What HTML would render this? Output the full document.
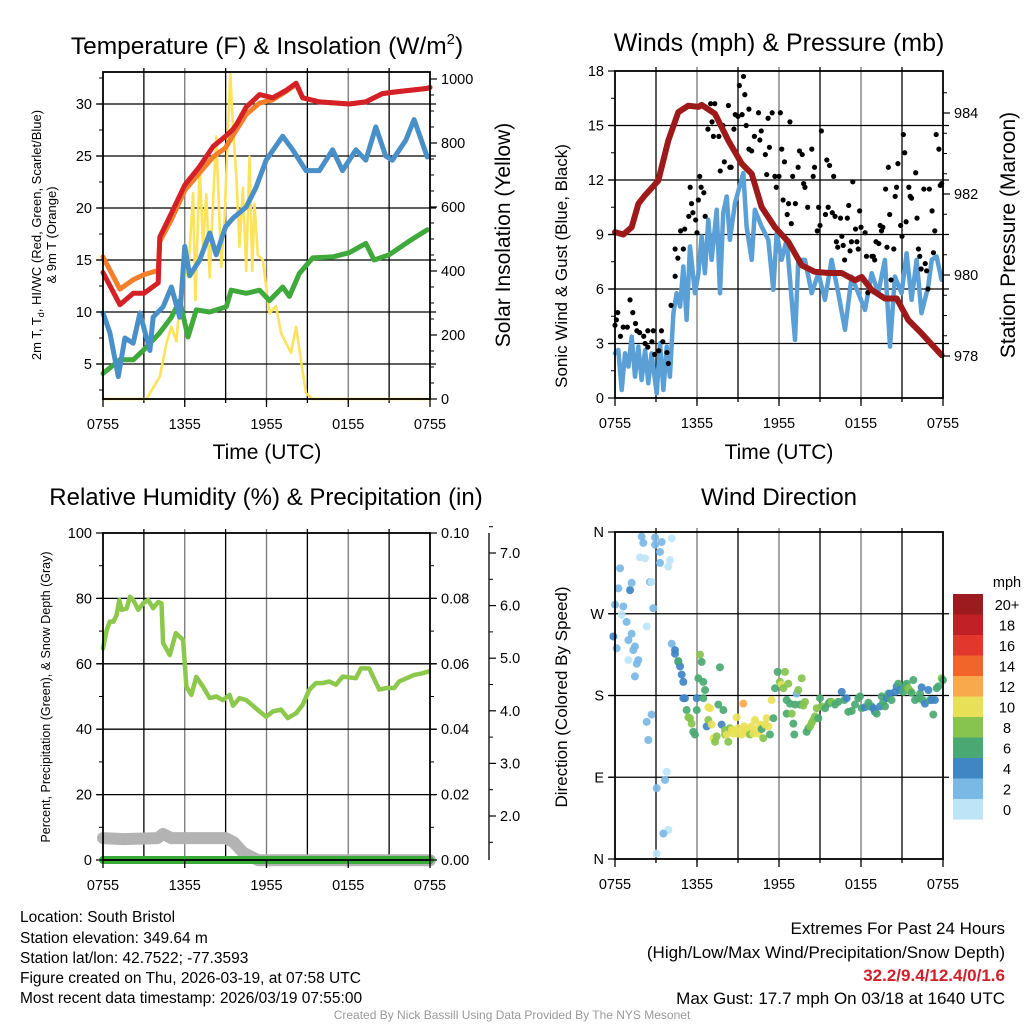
<!DOCTYPE html>
<html><head><meta charset="utf-8"><style>
html,body{margin:0;padding:0;background:#fff}
svg{display:block;font-family:"Liberation Sans",sans-serif}
</style></head><body>
<svg id="c" width="1024" height="1024" viewBox="0 0 1024 1024" xmlns="http://www.w3.org/2000/svg">
<rect width="1024" height="1024" fill="#fff"/>
<g id="g"></g>
<text x="267" y="54" font-size="24.5" text-anchor="middle">Temperature (F) &amp; Insolation (W/m<tspan font-size="15" dy="-10">2</tspan><tspan dy="10">)</tspan></text>
<text x="779" y="51" font-size="25" text-anchor="middle">Winds (mph) &amp; Pressure (mb)</text>
<text x="266" y="505" font-size="24" text-anchor="middle">Relative Humidity (%) &amp; Precipitation (in)</text>
<text x="779" y="505" font-size="24" text-anchor="middle">Wind Direction</text>
<text x="267" y="459" font-size="21" text-anchor="middle">Time (UTC)</text>
<text x="779" y="459" font-size="21" text-anchor="middle">Time (UTC)</text>
<text transform="translate(41,235) rotate(-90)" font-size="13" text-anchor="middle">2m T, T<tspan font-size="9" dy="3">d</tspan><tspan dy="-3">, HI/WC (Red, Green, Scarlet/Blue)</tspan></text>
<text transform="translate(56,235) rotate(-90)" font-size="13" text-anchor="middle">&amp; 9m T (Orange)</text>
<text transform="translate(510,235) rotate(-90)" font-size="21" text-anchor="middle">Solar Insolation (Yellow)</text>
<text transform="translate(567,266) rotate(-90)" font-size="17" text-anchor="middle">Sonic Wind &amp; Gust (Blue, Black)</text>
<text transform="translate(1015,235) rotate(-90)" font-size="21" text-anchor="middle">Station Pressure (Maroon)</text>
<text transform="translate(50,697) rotate(-90)" font-size="12.5" text-anchor="middle">Percent, Precipitation (Green), &amp; Snow Depth (Gray)</text>
<text transform="translate(567,697) rotate(-90)" font-size="17" text-anchor="middle">Direction (Colored By Speed)</text>
<g font-size="15.5">
<text x="20" y="922">Location: South Bristol</text>
<text x="20" y="943">Station elevation: 349.64 m</text>
<text x="20" y="963">Station lat/lon: 42.7522; -77.3593</text>
<text x="20" y="983">Figure created on Thu, 2026-03-19, at 07:58 UTC</text>
<text x="20" y="1003">Most recent data timestamp: 2026/03/19 07:55:00</text>
</g>
<g font-size="17" text-anchor="end">
<text x="1005" y="934">Extremes For Past 24 Hours</text>
<text x="1005" y="958">(High/Low/Max Wind/Precipitation/Snow Depth)</text>
<text x="1005" y="981" fill="#d0202a" font-weight="bold">32.2/9.4/12.4/0/1.6</text>
<text x="1005" y="1004">Max Gust: 17.7 mph On 03/18 at 1640 UTC</text>
</g>
<text x="512" y="1019" font-size="12" fill="#999" text-anchor="middle">Created By Nick Bassill Using Data Provided By The NYS Mesonet</text>
</svg>
<script>
// ---------- data ----------
const timeLabels = ["0755","1355","1955","0155","0755"];
const redH = [0,1.24,2.22,3,4.05,4.17,5.02,6,7.1,8.07,9,9.5,9.78,10.51,11.49,12.46,13.43,14.17,14.66,15.88,18.07,19.29,20.51,21.73,23.8,24];
const redT = [13.8,10.7,11.8,11.8,12.8,17.2,19.5,22.2,24.0,25.9,26.9,27.5,28.0,29.7,30.9,30.6,31.3,32.0,30.6,30.2,30.0,30.2,31.0,31.2,31.5,31.6];
const orH = [0,1.24,2.22,3,4.05,4.17,5.02,6,7.1,8.07,9,9.5,10.51,11.49,12.46,13.43,14.17,14.66,15.88,18.07,19.29,20.51,21.73,23.8,24];
const orT = [15.3,12.2,13.1,13.6,14.0,16.8,18.9,21.7,23.4,24.9,25.8,26.9,29.0,30.1,30.4,31.2,31.9,30.6,30.2,30.0,30.2,31.0,31.2,31.5,31.6];
const blH = [0,0.51,1.12,1.61,2.22,2.71,3.44,3.68,4.41,5.02,5.63,6.0,6.36,7.1,7.83,8.31,9.0,9.53,10.51,11.24,11.97,13.19,13.92,14.9,15.88,16.85,17.58,18.56,19.29,20.02,20.75,21.24,22.22,22.83,23.8];
const blT = [9.9,8.0,3.8,7.5,7.0,9.9,6.3,9.5,10.5,12.4,9.5,16.3,13.5,15.0,17.6,15.5,18.2,19.0,20.1,22.0,24.6,26.9,25.6,23.6,23.6,25.6,23.6,25.6,24.6,27.8,25.0,24.6,26.5,28.5,24.9];
const grH = [0,1.24,2.22,2.95,4.17,5.02,5.63,6.24,6.85,7.83,9.05,9.41,10.51,11.49,12.22,13.19,13.68,14.41,15.39,16.85,18.07,19.29,19.9,21.0,22.46,23.8];
const grT = [4.1,5.4,5.4,6.3,8.0,9.5,11.1,7.6,10.2,10.0,10.5,12.1,11.8,12.1,11.1,12.4,11.5,13.7,15.2,15.3,15.7,16.6,15.0,15.5,16.8,17.9];
const solH = [0,3.2,3.44,4.17,4.66,5.02,5.39,5.63,5.88,6.24,6.61,6.78,7.1,7.34,7.58,7.83,8.07,8.31,8.68,8.92,9.34,9.58,9.78,10.02,10.27,10.51,10.75,10.95,11.12,11.36,11.73,12.22,12.7,13.07,13.8,14.17,14.53,14.9,15.39,24];
const solW = [0,0,18,70,175,226,180,300,434,380,643,309,726,480,640,380,612,820,413,560,1018,820,700,476,660,400,757,400,610,450,434,268,290,206,144,226,120,18,0,0];
const wdH = [0,0.24,0.49,0.73,0.98,1.22,1.46,1.71,1.95,2.2,2.44,2.68,3.05,3.29,3.54,3.78,4.02,4.27,4.51,4.76,5.0,5.24,5.49,5.85,6.1,6.34,6.58,6.83,7.07,7.44,7.68,7.92,8.17,8.41,8.78,9.39,9.63,10.0,10.24,10.73,11.22,11.58,11.83,12.19,12.56,13.17,13.41,13.9,14.39,14.88,15.36,15.85,16.34,16.83,17.31,17.8,18.29,18.78,19.26,19.75,20.12,20.48,20.97,21.34,21.7,22.07,22.43,22.92,23.17,23.53,23.9];
const wdV = [2.46,2.64,0.44,2.46,1.73,3.38,1.17,2.83,0.99,2.64,0.81,2.46,0.26,3.01,0.44,2.83,1.17,4.67,5.77,5.03,7.24,4.3,8.34,5.77,6.87,8.89,6.87,9.81,7.6,10.36,5.77,10.18,11.09,8.71,10.73,12.38,9.44,7.6,10.36,9.44,8.71,5.95,9.07,7.6,8.71,3.2,7.6,7.6,5.77,6.87,5.4,7.6,5.77,3.75,6.68,5.77,4.85,6.87,5.77,7.6,2.83,6.68,5.77,7.97,5.4,7.6,4.67,6.13,7.6,7.79,6.5];
const gustH = [0,0.1,0.2,0.4,0.6,0.9,1.1,1.3,1.5,1.6,1.8,2.1,2.2,2.4,2.4,2.7,2.8,2.9,3.2,3.4,3.5,3.8,3.9,4.1,4.4,4.4,4.6,4.8,5.0,5.1,5.4,5.5,5.6,5.7,5.9,6.0,6.1,6.2,6.3,6.5,6.6,6.8,7.0,7.1,7.2,7.3,7.6,7.7,7.9,8.0,8.3,8.4,8.5,8.7,8.8,9.0,9.1,9.3,9.4,9.5,9.6,9.8,9.8,10.0,10.2,10.5,10.6,10.7,11.0,11.1,11.2,11.3,11.5,11.7,11.8,12.0,12.1,12.2,12.3,12.4,12.6,12.7,12.8,12.9,13.0,13.2,13.4,13.5,13.7,13.8,13.9,14.1,14.4,14.5,14.6,14.8,14.9,15.0,15.1,15.4,15.5,15.6,15.7,15.9,16.0,16.1,16.2,16.3,16.5,16.6,16.7,16.8,17.0,17.1,17.2,17.3,17.4,17.6,17.7,17.8,17.9,18.0,18.3,18.4,18.5,18.8,18.9,19.0,19.1,19.3,19.4,19.5,19.6,19.8,19.9,20.0,20.1,20.2,20.4,20.5,20.6,20.7,20.9,21.0,21.1,21.2,21.3,21.5,21.6,21.7,22.0,22.1,22.2,22.3,22.4,22.6,22.7,22.8,22.9,23.0,23.2,23.3,23.4,23.5,23.7,23.8,23.9];
const gustV = [4.0,4.3,4.7,3.4,3.9,3.9,5.4,4.7,4.1,3.7,3.6,3.4,3.0,2.8,3.7,3.1,3.7,2.4,2.6,3.7,3.1,2.5,1.9,5.1,6.7,8.2,7.7,9.2,8.2,9.3,10.0,11.6,10.7,10.2,9.8,9.1,10.9,12.2,11.6,11.3,10.0,14.8,16.2,15.2,14.4,16.2,14.4,12.5,15.0,13.0,16.1,12.7,12.7,14.8,15.6,15.5,17.2,15.6,17.7,16.7,15.0,13.7,15.9,13.6,14.4,15.7,14.2,14.7,13.4,12.3,15.4,13.8,15.7,12.2,11.6,12.2,15.7,13.7,10.9,13.0,10.1,10.7,15.2,9.6,12.2,10.7,12.7,13.6,13.4,11.8,11.6,10.5,13.7,12.2,12.7,9.2,10.5,9.5,14.7,10.1,13.1,10.5,12.8,10.2,12.2,10.0,8.6,8.3,9.9,8.9,8.4,7.6,9.9,10.6,8.1,8.6,11.9,9.3,8.6,8.2,10.3,9.4,9.1,7.8,5.8,7.8,7.8,7.6,8.6,8.5,9.5,9.2,9.4,11.5,8.3,12.7,10.1,6.5,8.2,11.1,11.6,12.9,9.5,8.9,14.5,13.5,9.7,11.6,11.1,11.0,12.4,9.9,8.2,7.8,7.1,11.5,7.4,7.0,6.0,11.5,10.3,8.0,9.2,14.5,13.7,11.7,11.8];
const presH = [0,0.61,1.22,1.71,2.2,3.17,3.9,4.63,5.36,6.1,6.34,7.32,8.29,9.27,10.0,10.73,11.7,12.68,13.66,14.63,15.61,16.58,17.56,18.05,18.78,19.75,20.61,21.46,22.43,23.9];
const presV = [981.06,981.0,981.18,981.76,981.97,982.33,983.32,984.02,984.18,984.15,984.2,983.98,983.32,982.75,982.5,981.68,981.18,980.82,980.24,980.08,980.05,980.05,979.87,979.95,979.63,979.42,979.42,978.89,978.56,978.02];
const rhH = [0,0.27,0.51,0.76,1.0,1.2,1.37,1.73,1.98,2.22,2.59,2.95,3.32,3.68,4.05,4.29,4.41,4.9,5.34,5.88,6.12,6.49,6.85,7.34,7.83,8.32,8.8,9.29,9.54,10.02,10.51,11.0,11.49,11.98,12.46,13.07,13.56,14.17,14.66,15.15,15.63,16.12,16.61,17.1,17.59,18.56,18.93,19.54,20.27,20.83,21.37,21.73,22.83,23.44,23.93];
const rhV = [64.7,70.3,72.9,72.9,74.9,79.5,76.5,76.9,80.5,79.5,76.5,78.5,79.5,77.0,78.9,78.5,66.3,62.7,69.4,67.3,53.0,50.5,56.0,53.0,49.5,50.0,48.9,50.5,47.2,49.5,48.9,47.2,45.4,43.8,45.4,46.0,43.4,44.9,47.5,52.1,54.1,54.1,54.6,53.6,56.1,55.6,58.6,58.6,52.1,52.6,52.6,54.6,56.6,57.1,57.7];
const snowH = [0,1.5,4.0,4.4,5.0,6.0,9.0,9.6,10.3,11.4,24];
const snowV = [1.58,1.56,1.58,1.66,1.58,1.58,1.58,1.5,1.3,1.16,1.16];
const precipH = [0,24];
const precipV = [0,0];
const speedLabels = ["20+","18","16","14","12","10","8","6","4","2","0"];
const speedColors = ["#9b1b1f","#c12027","#e2372c","#f1652b","#f7a94b","#e8e157","#86c44e","#4aa972","#3f86c4","#7ab8e6","#bde5f7"];
const dirH = [0,0.24,0.37,0.12,-0.12,0.49,0.61,0.85,0.98,1.1,1.22,1.22,1.34,1.46,1.71,1.59,0.98,1.46,1.83,2.2,1.95,2.07,2.56,2.68,2.8,2.93,2.93,3.41,3.29,3.29,4.15,4.02,3.9,2.32,2.68,2.32,2.44,3.78,3.66,3.05,3.9,3.54,3.05,
 4.15,4.39,4.39,4.63,4.76,4.88,5.0,5.0,5.12,4.63,5.24,5.37,5.49,5.61,5.73,5.85,5.98,5.98,6.1,6.22,6.34,6.46,6.59,6.46,6.71,6.95,6.83,7.07,7.2,7.32,7.44,6.83,7.56,7.68,7.8,7.93,8.05,8.05,8.17,8.29,8.41,8.54,8.66,8.78,8.9,9.02,9.02,9.27,9.39,9.46,9.51,9.63,9.76,9.88,10.0,10.12,10.24,10.37,10.49,10.61,10.73,10.85,10.98,11.1,11.22,11.34,11.46,11.59,11.71,11.9,12.07,12.2,12.32,12.44,12.56,12.56,12.68,12.8,12.93,13.05,13.12,13.17,13.29,13.41,13.54,13.66,13.78,13.9,14.02,14.15,14.27,14.39,14.51,14.63,14.76,14.88,15.0,15.12,15.37,15.61,15.73,15.85,16.1,16.34,16.59,16.78,16.95,17.07,17.32,17.56,17.8,17.93,18.05,18.29,18.54,18.66,18.78,18.9,19.02,19.15,19.39,19.51,19.63,19.76,19.88,20.0,20.12,20.24,20.49,20.61,20.73,20.85,21.1,21.22,21.34,21.46,21.59,21.71,21.83,21.95,22.2,22.32,22.44,22.51,22.68,22.93,23.05,23.17,23.29,23.41,23.54,23.66,23.9,24.0];
const dirDeg = [280,298,320,232,245,269,278,261,241,296,304,248,230,234,219,215,219,201,332,331,355,348,305,305,276,346,354,349,338,326,353,329,322,256,159,151,131,96,87,78,32,28,6,
 237,230,226,217,212,203,195,177,177,218,164,156,155,149,140,137,177,164,199,225,217,195,186,177,146,166,153,148,133,129,135,167,170,211,148,164,142,137,137,129,144,142,138,142,156,138,144,137,171,146,140,142,138,137,146,138,153,142,138,148,143,133,148,155,146,137,175,155,188,206,195,192,188,206,175,160,193,171,160,149,137,170,182,186,170,199,169,173,140,144,146,150,153,157,166,155,177,168,166,171,173,173,170,173,184,175,177,162,163,170,177,179,166,167,172,168,168,166,162,160,168,179,173,168,177,182,182,175,184,190,193,186,184,190,193,188,185,183,197,175,177,182,189,175,171,186,175,175,159,175,188,190,199,197,192,195,206,201];
const dirSpd = [2,2,2,2,4,0,2,2,2,4,2,2,2,2,2,2,0,2,0,0,2,2,2,0,2,2,2,2,2,2,0,0,0,0,2,2,2,0,2,2,0,2,0,
 2,4,4,4,4,4,4,4,4,6,6,8,8,8,6,6,4,6,6,8,6,6,6,6,4,10,8,10,10,8,8,10,6,6,4,6,8,8,10,8,8,10,10,10,10,10,10,10,12,10,10,10,10,8,10,10,10,10,10,10,6,8,10,10,10,6,10,6,6,6,8,10,8,8,6,6,8,6,8,6,6,6,2,8,6,8,8,8,6,6,8,8,8,8,8,6,6,8,6,6,6,8,6,6,4,6,4,6,6,6,6,6,6,4,6,6,6,4,4,6,4,6,6,6,4,6,4,6,4,4,6,4,6,6,6,8,8,6,6,6,6,6,4,6,4,4,6,4,6,4,6,6,8,6,6,6];

// ---------- helpers ----------
const NS="http://www.w3.org/2000/svg";
const G=document.getElementById('g');
function mk(tag,attrs,parent){const e=document.createElementNS(NS,tag);for(const k in attrs)e.setAttribute(k,attrs[k]);(parent||G).appendChild(e);return e;}
function lin(d0,d1,r0,r1){return v=>r0+(v-d0)*(r1-r0)/(d1-d0);}
function path(xs,ys,sx,sy){return xs.map((h,i)=>(i?'L':'M')+sx(h).toFixed(1)+','+sy(ys[i]).toFixed(1)).join('');}

function panelGrid(L,R,T,B,sx,hLines){
  for(let h=3;h<24;h+=3){
    const l=mk('line',{x1:sx(h),x2:sx(h),y1:T-4,y2:B+4,stroke:(h%6===0)?'#777':'#000','stroke-width':1.3});
    
    
  }
  hLines.forEach(y=>{
    const l=mk('line',{x1:L-6,x2:R+6,y1:y,y2:y,stroke:'#000','stroke-width':1.3});
    
    
  });
}
function xTicks(sx,B){
  timeLabels.forEach((t,i)=>{
    const x=sx(i*6);
    const tx=mk('text',{x:x,y:B+30,'font-size':14.5,'text-anchor':'middle'});
    tx.textContent=t;
    
    
    mk('line',{x1:x,x2:x,y1:B,y2:B+8,stroke:'#000','stroke-width':1.3});
  });
}
function frame(L,R,T,B,name){
  const r=mk('rect',{x:L,y:T,width:R-L,height:B-T,fill:'none',stroke:'#000','stroke-width':1.8});
  
  
}
function yTicks(vals,sy,x,side,labels,minor){
  vals.forEach((v,i)=>{
    const y=sy(v);
    mk('line',{x1:x,x2:x+(side<0?-7:7),y1:y,y2:y,stroke:'#000','stroke-width':1.2});
    const t=mk('text',{x:x+(side<0?-11:11),y:y+5,'font-size':14.5,'text-anchor':side<0?'end':'start'});
    t.textContent=labels?labels[i]:v;
    
    
  });
  (minor||[]).forEach(v=>{const y=sy(v);mk('line',{x1:x,x2:x+(side<0?-4:4),y1:y,y2:y,stroke:'#000','stroke-width':1});});
}
function line(xs,ys,sx,sy,color,w,name,extra){
  const p=mk('path',Object.assign({d:path(xs,ys,sx,sy),fill:'none',stroke:color,'stroke-width':w,'stroke-linejoin':'round','stroke-linecap':'round'},extra||{}));
  
  
}

// ---------- Panel 1 ----------
{
  const L=103,R=430,T=72,B=399;
  const sx=lin(0,24,L,R), sy=lin(5,30,364,104), sw=lin(0,1000,399,79);
  panelGrid(L,R,T,B,sx,[5,10,15,20,25,30].map(sy));
  line(solH,solW,sx,sw,'#fde35b',2.6,'insolation-line');
  line(grH,grT,sx,sy,'#3fa93b',5,'dewpoint-line');
  line(blH,blT,sx,sy,'#4a90c8',5,'windchill-line');
  line(orH,orT,sx,sy,'#f47f2b',5,'temp-9m-line');
  line(redH,redT,sx,sy,'#d42027',5,'temp-2m-line');
  frame(L,R,T,B,'temp-plot-frame');
  yTicks([5,10,15,20,25,30],sy,L,-1,null,[2.5,7.5,12.5,17.5,22.5,27.5,32.5]);
  yTicks([0,200,400,600,800,1000],sw,R,1,null,[50,100,150,250,300,350,450,500,550,650,700,750,850,900,950]);
  xTicks(sx,B);
}
// ---------- Panel 2 ----------
{
  const L=615,R=943,T=71,B=398;
  const sx=lin(0,24,L,R), sy=lin(0,18,398,71), sp=lin(978,984,356,113);
  panelGrid(L,R,T,B,sx,[3,6,9,12,15].map(sy));
  line(wdH,wdV,sx,sy,'#5a9fd6',4.5,'sonic-wind-line');
  gustH.forEach((h,i)=>{
    const c=mk('circle',{cx:sx(h),cy:sy(gustV[i]),r:2.6,fill:'#000'});
    
    
  });
  line(presH,presV,sx,sp,'#9e1a1a',6,'pressure-line');
  frame(L,R,T,B,'wind-plot-frame');
  yTicks([0,3,6,9,12,15,18],sy,L,-1,null,[1.5,4.5,7.5,10.5,13.5,16.5]);
  yTicks([978,980,982,984],sp,R,1,null,[978.5,979,979.5,980.5,981,981.5,982.5,983,983.5,984.5]);
  xTicks(sx,B);
}
// ---------- Panel 3 ----------
{
  const L=103,R=430,T=533,B=860;
  const sx=lin(0,24,L,R), sy=lin(0,100,860,533), sr=lin(0,0.1,860,533), ss=lin(2,7,816,553);
  panelGrid(L,R,T,B,sx,[20,40,60,80].map(sy));
  line(snowH,snowV,sx,ss,'#b3b3b3',12,'snow-depth-line');
  line(precipH,precipV,sx,sr,'#3aaa3a',8,'precip-line');
  line(rhH,rhV,sx,sy,'#8cc84b',4.5,'rh-line');
  frame(L,R,T,B,'rh-plot-frame');
  yTicks([0,20,40,60,80,100],sy,L,-1,null,[10,30,50,70,90]);
  yTicks([0,0.02,0.04,0.06,0.08,0.1],sr,R,1,["0.00","0.02","0.04","0.06","0.08","0.10"],[0.01,0.03,0.05,0.07,0.09]);
  mk('line',{x1:489,x2:489,y1:533,y2:860,stroke:'#000','stroke-width':1.3});
  yTicks([2,3,4,5,6,7],ss,489,1,["2.0","3.0","4.0","5.0","6.0","7.0"],[1.5,2.5,3.5,4.5,5.5,6.5,7.5]);
  xTicks(sx,B);
}
// ---------- Panel 4 ----------
{
  const L=615,R=943,T=532,B=859;
  const sx=lin(0,24,L,R), sy=lin(0,360,859,532);
  panelGrid(L,R,T,B,sx,[90,180,270].map(sy));
  dirH.forEach((h,i)=>{
    const idx=Math.max(0,Math.min(10,10-Math.round(Math.min(dirSpd[i],20)/2)));
    const c=mk('circle',{cx:sx(h),cy:sy(dirDeg[i]),r:4,fill:speedColors[idx],'fill-opacity':0.92});
    
    
  });
  frame(L,R,T,B,'direction-plot-frame');
  yTicks([0,90,180,270,360],sy,L,-1,["N","E","S","W","N"]);
  xTicks(sx,B);
  const cb=mk('g',{});
  
  
  speedLabels.forEach((lab,i)=>{
    const y=594+i*20.5;
    mk('rect',{x:953,y:y,width:30,height:20.5,fill:speedColors[i]},cb);
    const t=mk('text',{x:1007,y:y+16,'font-size':14.5,'text-anchor':'middle'},cb);
    t.textContent=lab;
    
    
  });
  const m=mk('text',{x:1007,y:587,'font-size':14.5,'text-anchor':'middle'},cb);
  m.textContent='mph';
}
</script>
</body></html>
